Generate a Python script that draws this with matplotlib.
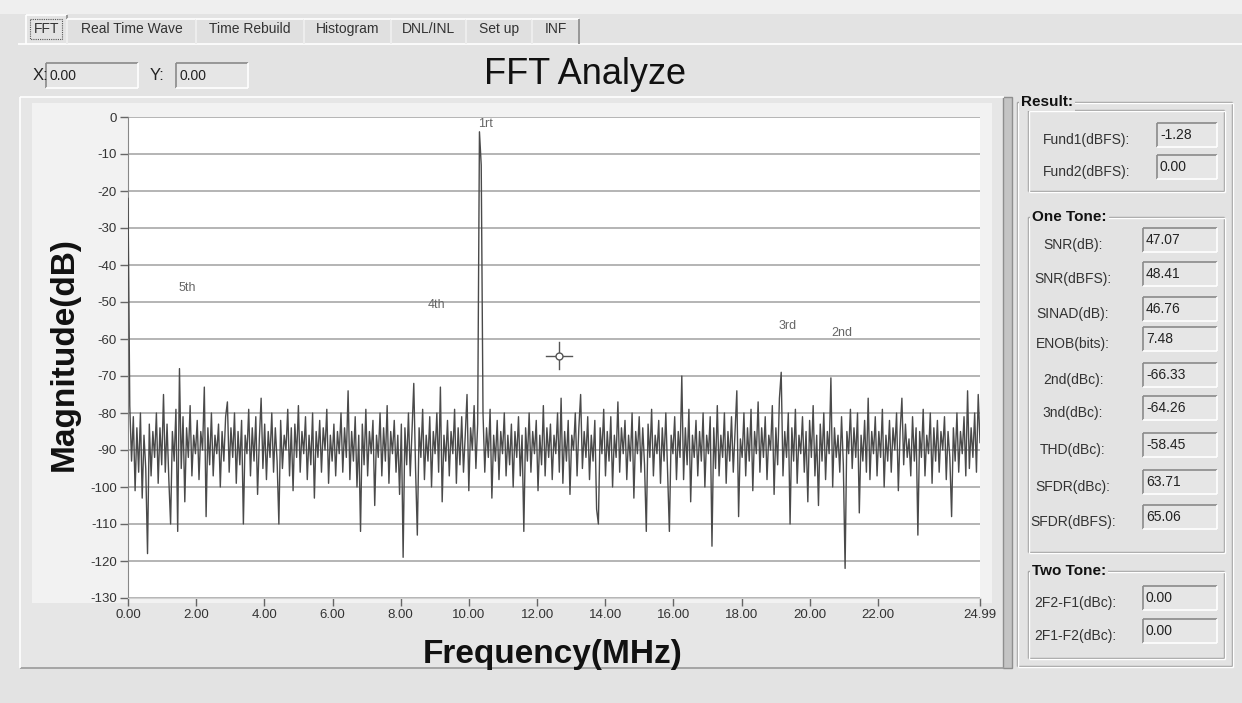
import numpy as np
import matplotlib.pyplot as plt
from matplotlib.patches import Rectangle

W, H = 1242, 703
NARROW = ['Liberation Sans Narrow', 'Liberation Sans', 'DejaVu Sans']
SANS = ['Liberation Sans', 'DejaVu Sans']

# tabs across the top of the window
tab_names = ["FFT", "Real Time Wave", "Time Rebuild", "Histogram", "DNL/INL", "Set up", "INF"]

# spectrum (dB), bins evenly spaced 0 .. 24.99 MHz
magnitude_db = [
    -22, -78, -93, -81, -101, -84, -96, -80, -103, -86, -95, -118, -83, -97, -85, -92, -80, -99, -84, -94,
    -75, -96, -83, -98, -110, -85, -93, -79, -112, -68, -95, -81, -104, -84, -92, -78, -97, -86, -91, -82,
    -98, -85, -90, -73, -108, -84, -94, -80, -97, -86, -91, -83, -100, -85, -93, -81, -77, -96, -84, -92,
    -80, -99, -85, -94, -82, -110, -86, -91, -79, -97, -84, -93, -81, -102, -87, -76, -95, -83, -98, -85,
    -92, -80, -96, -84, -93, -110, -82, -95, -86, -90, -79, -97, -84, -101, -83, -92, -78, -96, -85, -91,
    -81, -98, -86, -94, -80, -103, -85, -92, -82, -96, -84, -90, -79, -99, -86, -93, -83, -97, -85, -91,
    -80, -96, -84, -92, -74, -98, -85, -93, -81, -100, -86, -112, -83, -94, -79, -97, -85, -91, -82, -105,
    -86, -92, -80, -97, -84, -93, -78, -99, -85, -91, -82, -96, -86, -102, -83, -119, -84, -94, -80, -97,
    -85, -72, -95, -113, -84, -92, -79, -98, -86, -93, -81, -100, -85, -91, -80, -96, -73, -104, -86, -93,
    -82, -97, -85, -91, -79, -99, -84, -94, -81, -96, -86, -75, -101, -84, -90, -78, -95, -83, -4, -13,
    -80, -96, -84, -92, -79, -103, -86, -93, -82, -98, -85, -91, -80, -97, -86, -94, -83, -100, -85, -92,
    -81, -97, -86, -112, -84, -93, -80, -96, -85, -91, -82, -101, -86, -94, -78, -97, -84, -92, -83, -98,
    -86, -91, -80, -96, -76, -99, -85, -93, -82, -102, -86, -90, -80, -97, -84, -75, -95, -85, -92, -81,
    -98, -86, -93, -82, -106, -110, -84, -91, -79, -97, -85, -93, -81, -100, -86, -92, -77, -96, -84, -91,
    -82, -98, -86, -93, -80, -103, -85, -91, -81, -96, -84, -94, -112, -83, -92, -79, -97, -86, -91, -82,
    -99, -84, -93, -80, -96, -112, -86, -91, -81, -98, -85, -92, -70, -98, -84, -94, -79, -104, -86, -92,
    -82, -97, -85, -93, -80, -100, -86, -91, -81, -116, -84, -95, -78, -97, -86, -92, -80, -99, -85, -93,
    -81, -96, -85, -74, -108, -87, -92, -80, -97, -84, -93, -79, -101, -85, -91, -77, -96, -84, -92, -81,
    -98, -86, -90, -78, -102, -84, -94, -76, -69, -97, -85, -92, -80, -110, -84, -93, -79, -99, -86, -91,
    -81, -96, -85, -104, -82, -92, -78, -97, -86, -105, -83, -93, -80, -98, -85, -91, -70.5, -100, -84, -92,
    -86, -96, -81, -94, -122, -85, -91, -79, -95, -84, -92, -80, -107, -86, -93, -82, -96, -76, -98, -85,
    -91, -81, -97, -85, -92, -79, -100, -86, -93, -82, -96, -84, -90, -80, -101, -85, -76, -94, -83, -92,
    -87, -97, -81, -93, -84, -113, -85, -92, -79, -97, -86, -91, -80, -99, -84, -93, -82, -96, -85, -90,
    -81, -98, -85, -92, -108, -84, -93, -80, -96, -85, -91, -81, -97, -74, -95, -84, -92, -80, -96, -75,
    -88,
]
freq_mhz = np.linspace(0, 24.99, len(magnitude_db))

y_ticks = [0, -10, -20, -30, -40, -50, -60, -70, -80, -90, -100, -110, -120, -130]
x_ticks = [0, 2, 4, 6, 8, 10, 12, 14, 16, 18, 20, 22, 24.99]
x_tick_labels = ["0.00", "2.00", "4.00", "6.00", "8.00", "10.00", "12.00",
                 "14.00", "16.00", "18.00", "20.00", "22.00", "24.99"]

harmonic_names = ["1rt", "2nd", "3rd", "4th", "5th"]
harmonic_freq = [10.48, 20.93, 19.35, 9.06, 1.73]
harmonic_db = [-2, -58.5, -56.6, -50.9, -46.3]

cursor_freq, cursor_db = 12.65, -64.5

fund_labels = ["Fund1(dBFS):", "Fund2(dBFS):"]
fund_values = ["-1.28", "0.00"]
one_tone_labels = ["SNR(dB):", "SNR(dBFS):", "SINAD(dB):", "ENOB(bits):", "2nd(dBc):",
                   "3nd(dBc):", "THD(dBc):", "SFDR(dBc):", "SFDR(dBFS):"]
one_tone_values = ["47.07", "48.41", "46.76", "7.48", "-66.33", "-64.26", "-58.45", "63.71", "65.06"]
two_tone_labels = ["2F2-F1(dBc):", "2F1-F2(dBc):"]
two_tone_values = ["0.00", "0.00"]

BG = '#e3e3e3'

fig = plt.figure(figsize=(W / 100, H / 100), dpi=100, facecolor=BG)
ui = fig.add_axes([0, 0, 1, 1], zorder=0)
ui.set_xlim(0, W)
ui.set_ylim(H, 0)
ui.axis('off')


def rect(x0, y0, x1, y1, fc='none', ec='none', lw=1.0, z=1):
    p = Rectangle((x0, y0), x1 - x0, y1 - y0, facecolor=fc, edgecolor=ec, lw=lw, zorder=z)
    ui.add_patch(p)
    return p


def hline(x0, x1, y, c, lw=1.0, z=2):
    ui.plot([x0, x1], [y, y], color=c, lw=lw, zorder=z, solid_capstyle='butt')


def vline(x, y0, y1, c, lw=1.0, z=2):
    ui.plot([x, x], [y0, y1], color=c, lw=lw, zorder=z, solid_capstyle='butt')


def sunken(x0, y0, x1, y1, text=None):
    rect(x0, y0, x1, y1, fc='#e6e6e6')
    hline(x0, x1, y0, '#8a8a8a', 1.2)
    vline(x0, y0, y1, '#8a8a8a', 1.2)
    hline(x0, x1, y1, '#ffffff', 1.2)
    vline(x1, y0, y1, '#ffffff', 1.2)
    if text is not None:
        ui.text(x0 + 3, (y0 + y1) / 2, text, fontsize=10, family=SANS,
                color='#222222', ha='left', va='center', zorder=3)


def group(x0, y0, x1, y1, title=None):
    for off, c in ((0, '#9c9c9c'), (1.2, '#ffffff')):
        hline(x0 + off, x1 + off, y0 + off, c)
        hline(x0 + off, x1 + off, y1 + off, c)
        vline(x0 + off, y0 + off, y1 + off, c)
        vline(x1 + off, y0 + off, y1 + off, c)
    if title is not None:
        ui.text(x0 + 4, y0, title, fontsize=11, family=SANS, weight='bold', color='#111111',
                ha='left', va='center', zorder=4,
                bbox=dict(facecolor=BG, edgecolor='none', pad=1.5))


# top strip and tabs
rect(0, 0, W, 14, fc='#efefef', z=0.5)
hline(18, W, 44, '#ffffff', 1.2)
tab_edges = [26, 67, 196, 304, 391, 466, 532, 579]
for i, name in enumerate(tab_names):
    x0, x1 = tab_edges[i], tab_edges[i + 1]
    top = 15 if i == 0 else 19
    rect(x0, top, x1, 44 if i else 46, fc=BG if i == 0 else '#e0e0e0', z=1)
    hline(x0, x1, top, '#ffffff', 1.2)
    vline(x0, top, 44, '#ffffff', 1.2)
    vline(x1, top, 44, '#8a8a8a', 1.2)
    ui.text((x0 + x1) / 2, 29, name, fontsize=10, family=NARROW, color='#333333',
            ha='center', va='center', zorder=3)
focus = rect(30, 19, 62, 39, ec='#555555', lw=0.8, z=2)
focus.set_linestyle((0, (1, 1)))

# X / Y readouts and title
ui.text(33, 76, "X:", fontsize=12, family=SANS, color='#222222', va='center')
sunken(46, 63, 138, 88, "0.00")
ui.text(150, 76, "Y:", fontsize=12, family=SANS, color='#222222', va='center')
sunken(176, 63, 248, 88, "0.00")
ui.text(585, 75, "FFT Analyze", fontsize=26, family=SANS, color='#111111',
        ha='center', va='center')

# graph panel
rect(20, 97, 1004, 668, fc='#e6e6e6', z=0.6)
hline(20, 1004, 97, '#ffffff', 1.2)
hline(20, 1004, 668, '#9a9a9a', 1.2)
vline(20, 97, 668, '#ffffff', 1.2)
rect(32, 103, 992, 603, fc='#f2f2f2', z=0.7)
rect(1003, 97, 1012, 668, fc='#c4c4c4', ec='#8e8e8e', lw=1.0, z=1)

ui.text(64, 354, "Magnitude(dB)", fontsize=24, family=SANS, weight='bold', color='#111111',
        rotation=90, ha='center', va='center')
ui.text(553, 655, "Frequency(MHz)", fontsize=24, family=SANS, weight='bold', color='#111111',
        ha='center', va='center')

# results panel
group(1017, 102, 1232, 666, "Result:")
group(1028, 110, 1224, 191)
for i, (lab, val) in enumerate(zip(fund_labels, fund_values)):
    yc = 135 + 32 * i
    ui.text(1087, yc + 5, lab, fontsize=10, family=NARROW, color='#333333',
            ha='center', va='center')
    sunken(1157, yc - 12, 1217, yc + 12, val)

group(1028, 217, 1224, 552, "One Tone:")
one_tone_rows = [240, 274, 309, 339, 375, 408, 445, 482, 517]
for yc, lab, val in zip(one_tone_rows, one_tone_labels, one_tone_values):
    ui.text(1073, yc + 5, lab, fontsize=10, family=NARROW, color='#333333',
            ha='center', va='center')
    sunken(1143, yc - 12, 1217, yc + 12, val)

group(1028, 571, 1224, 658, "Two Tone:")
for yc, lab, val in zip([598, 631], two_tone_labels, two_tone_values):
    ui.text(1075, yc + 5, lab, fontsize=10, family=NARROW, color='#333333',
            ha='center', va='center')
    sunken(1143, yc - 12, 1217, yc + 12, val)

# spectrum plot
ax = fig.add_axes([128 / W, 1 - 598 / H, 852 / W, 481 / H], zorder=2)
ax.set_facecolor('white')
ax.plot(freq_mhz, magnitude_db, color='#4a4a4a', lw=1.0, zorder=3)
ax.set_xlim(0, 24.99)
ax.set_ylim(-130, 0)
ax.set_yticks(y_ticks)
ax.set_yticklabels([str(v) for v in y_ticks])
ax.set_xticks(x_ticks)
ax.set_xticklabels(x_tick_labels)
ax.grid(axis='y', color='#a8a8a8', lw=1.2, zorder=1)
ax.set_axisbelow(True)
ax.tick_params(direction='out', length=6, width=1, color='#666666', labelcolor='#333333',
               labelsize=9.5, pad=2)
for lab in ax.get_xticklabels() + ax.get_yticklabels():
    lab.set_family(NARROW)
for side in ('top', 'right'):
    ax.spines[side].set_visible(False)
ax.spines['left'].set_color('#888888')
ax.spines['bottom'].set_color('#d0d0d0')

for name, fx, fy in zip(harmonic_names, harmonic_freq, harmonic_db):
    ax.text(fx, fy, name, fontsize=9, family=NARROW, color='#666666',
            ha='center', va='center', zorder=4)

# cursor marker
ax.plot([cursor_freq - 0.38, cursor_freq + 0.38], [cursor_db, cursor_db], color='#555555', lw=1, zorder=4)
ax.plot([cursor_freq, cursor_freq], [cursor_db - 3.6, cursor_db + 3.6], color='#555555', lw=1, zorder=4)
ax.plot([cursor_freq], [cursor_db], marker='o', ms=5, mfc='white', mec='#555555', mew=1, zorder=5)

fig.savefig('out.png', dpi=100, facecolor=BG)
